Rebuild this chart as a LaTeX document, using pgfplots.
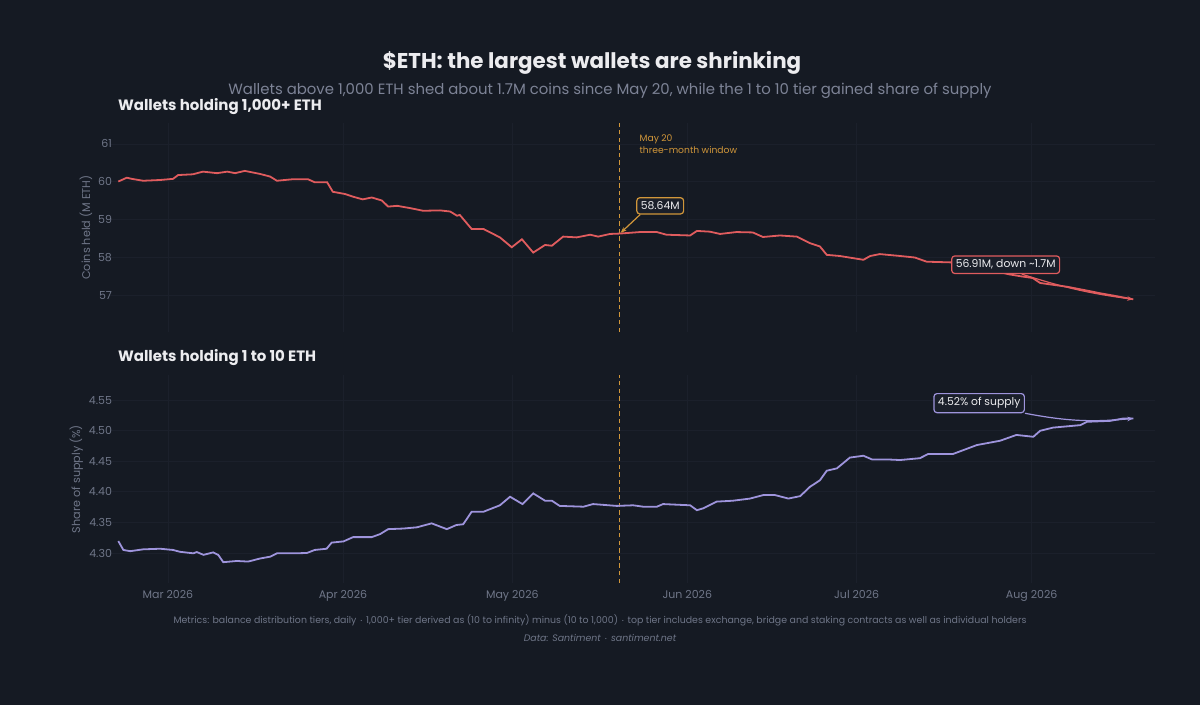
\documentclass[border=0pt]{standalone}
\usepackage{pgfplots}
\pgfplotsset{compat=1.18}
\usepackage{fontspec}
\setmainfont{Poppins}
\usetikzlibrary{arrows.meta}
\definecolor{bg}{HTML}{151A23}
\definecolor{gridc}{HTML}{1B202B}
\definecolor{tickc}{HTML}{6F7688}
\definecolor{subc}{HTML}{7D8396}
\definecolor{redl}{HTML}{E05C5E}
\definecolor{purl}{HTML}{9E94DC}
\definecolor{ambr}{HTML}{D0963A}
\definecolor{titc}{HTML}{ECECEF}
\definecolor{boxbg}{HTML}{1A1F2A}

\pgfplotstableread{
day val
-8.8 60.01
-7.3 60.11
-6.4 60.08
-4.4 60.03
-1.4 60.05
0.9 60.08
1.8 60.18
4.4 60.20
6.2 60.27
8.7 60.23
10.5 60.27
11.9 60.23
13.6 60.29
16.3 60.21
18.1 60.14
19.3 60.03
22.1 60.07
24.8 60.07
26.0 59.99
28.2 59.99
29.2 59.74
31.4 59.68
32.8 59.61
34.5 59.54
36.1 59.59
37.9 59.51
39.0 59.35
40.6 59.37
42.9 59.31
45.2 59.24
48.2 59.25
50.0 59.22
51.2 59.11
51.7 59.13
53.8 58.76
55.9 58.76
58.8 58.54
60.9 58.28
62.7 58.49
64.7 58.14
66.8 58.34
68.0 58.32
70.0 58.56
72.4 58.54
74.8 58.61
76.2 58.56
78.3 58.63
80.0 58.64
83.6 58.68
86.6 58.68
88.3 58.61
92.5 58.59
93.7 58.71
96.0 58.69
97.8 58.63
100.7 58.68
103.6 58.67
105.4 58.55
108.4 58.59
111.4 58.56
113.7 58.39
115.5 58.30
116.7 58.08
119.0 58.05
123.2 57.95
124.4 58.05
126.1 58.10
129.7 58.05
132.3 58.01
134.4 57.90
139.1 57.88
143.0 57.80
146.5 57.66
148.9 57.57
150.9 57.52
153.2 57.47
154.5 57.34
159.3 57.24
162.8 57.14
165.1 57.07
167.4 57.01
169.9 56.94
171.0 56.91
}\bigtier

\pgfplotstableread{
day val
-8.8 4.3196
-7.9 4.305
-6.7 4.303
-4.4 4.306
-1.4 4.307
0.9 4.305
2.1 4.302
4.5 4.2995
5.1 4.3016
6.3 4.297
8.0 4.301
8.9 4.297
9.8 4.285
12.2 4.287
14.2 4.286
16.3 4.291
18.1 4.294
19.3 4.2995
22.2 4.2995
24.6 4.300
26.0 4.305
28.1 4.307
29.0 4.317
31.1 4.319
32.8 4.326
36.1 4.326
37.6 4.331
39.0 4.339
41.7 4.340
44.1 4.342
46.7 4.3485
49.4 4.339
51.1 4.3458
52.3 4.347
53.8 4.3675
55.9 4.3675
58.8 4.378
60.6 4.392
62.8 4.380
64.7 4.3975
66.8 4.3855
68.0 4.3855
69.4 4.377
73.6 4.3757
75.3 4.380
79.5 4.377
82.4 4.378
84.2 4.3757
86.6 4.3757
87.7 4.380
92.5 4.378
93.7 4.370
94.8 4.373
97.2 4.384
100.1 4.3855
103.1 4.389
105.5 4.3948
107.5 4.3948
109.9 4.389
112.0 4.393
113.7 4.408
115.5 4.419
116.7 4.4345
118.5 4.4384
120.8 4.456
123.2 4.459
124.7 4.453
127.3 4.453
129.7 4.452
133.2 4.455
134.7 4.462
139.1 4.462
143.3 4.4765
147.4 4.4835
150.3 4.493
153.3 4.490
154.5 4.4998
156.8 4.505
161.6 4.509
162.8 4.5145
166.9 4.516
169.3 4.520
171.0 4.520
}\smalltier

\pgfplotsset{
  panel/.style={
    scale only axis,
    width=522.5pt,
    anchor=south west,
    xmin=-10.27, xmax=174.85,
    axis line style={draw=none},
    major tick length=0pt,
    grid=major,
    grid style={draw=gridc, line width=0.4pt},
    tick label style={font=\fontsize{5.5}{6}\selectfont, text=tickc},
    yticklabel style={xshift=4.5pt},
    /pgf/number format/assume math mode=true,
    ylabel style={font=\fontsize{5.6}{6}\selectfont, text=tickc},
    clip=false,
    xtick={0,31,61,92,122,153},
  }
}

\begin{document}
\begin{tikzpicture}
\path[use as bounding box] (0,0) rectangle (600pt,352.5pt);
\fill[bg] (0,0) rectangle (600pt,352.5pt);

\node[text=titc, font=\fontsize{10.7}{12}\selectfont\bfseries] at (296pt,321pt) {\$ETH: the largest wallets are shrinking};
\node[text=subc, font=\fontsize{7.45}{9}\selectfont] at (305pt,307pt) {Wallets above 1,000 ETH shed about 1.7M coins since May 20, while the 1 to 10 tier gained share of supply};
\node[text=titc, font=\fontsize{7.5}{9}\selectfont\bfseries, anchor=west] at (55.5pt,299pt) {Wallets holding 1,000+ ETH};
\node[text=titc, font=\fontsize{7.5}{9}\selectfont\bfseries, anchor=west] at (55.5pt,173.5pt) {Wallets holding 1 to 10 ETH};

\begin{axis}[panel,
  at={(55pt,186.5pt)}, height=104.5pt,
  ymin=56.05, ymax=61.55,
  ytick={57,58,59,60,61},
  xticklabels={},
  ylabel={Coins held (M ETH)},
  ylabel shift=-4pt,
]
\addplot[ambr, line width=0.75pt, dash pattern=on 2.2pt off 1.6pt, no marks] coordinates {(80,56.05) (80,61.55)};
\addplot[redl, line width=0.9pt, no marks] table[x=day,y=val] {\bigtier};
\node[anchor=west, text=ambr, font=\fontsize{4.6}{5.8}\selectfont, align=left] at (axis cs:82.3,61.0) {May 20\\three-month window};
\node[draw=ambr, fill=boxbg, rounded corners=1.5pt, line width=0.6pt, text=titc, font=\fontsize{5.4}{6}\selectfont, inner sep=2pt] (b1) at (axis cs:87.2,59.37) {58.64M};
\draw[ambr, line width=0.6pt, -{Stealth[length=3pt]}] ([xshift=2pt]b1.south west) -- (axis cs:80.2,58.66);
\node[draw=redl, fill=boxbg, rounded corners=1.5pt, line width=0.6pt, text=titc, font=\fontsize{5.4}{6}\selectfont, inner sep=2pt] (b2) at (axis cs:148.4,57.82) {56.91M, down \textasciitilde1.7M};
\draw[redl, line width=0.6pt, -{Stealth[length=3pt]}] ([xshift=8pt]b2.south) to[bend right=5] (axis cs:171,56.91);
\end{axis}

\begin{axis}[panel,
  at={(55pt,61pt)}, height=104pt,
  ymin=4.251, ymax=4.591,
  ytick={4.30,4.35,4.40,4.45,4.50,4.55},
  yticklabel style={/pgf/number format/.cd, fixed, fixed zerofill, precision=2},
  xticklabels={Mar 2026,Apr 2026,May 2026,Jun 2026,Jul 2026,Aug 2026},
  ylabel={Share of supply (\%)},
  ylabel shift=-4pt,
]
\addplot[ambr, line width=0.75pt, dash pattern=on 2.2pt off 1.6pt, no marks] coordinates {(80,4.251) (80,4.591)};
\addplot[purl, line width=0.9pt, no marks] table[x=day,y=val] {\smalltier};
\node[draw=purl, fill=boxbg, rounded corners=1.5pt, line width=0.6pt, text=titc, font=\fontsize{5.4}{6}\selectfont, inner sep=2pt] (b3) at (axis cs:143.7,4.545) {4.52\% of supply};
\draw[purl, line width=0.6pt, -{Stealth[length=3pt]}] (b3.south east) to[bend right=8] (axis cs:171,4.52);
\end{axis}

\node[text=tickc, font=\fontsize{4.7}{6}\selectfont] at (300pt,42.5pt) {Metrics: balance distribution tiers, daily $\cdot$ 1,000+ tier derived as (10 to infinity) minus (10 to 1,000) $\cdot$ top tier includes exchange, bridge and staking contracts as well as individual holders};
\node[text=tickc, font=\fontsize{4.7}{6}\selectfont\itshape] at (300pt,33.5pt) {Data: Santiment $\cdot$ santiment.net};
\end{tikzpicture}
\end{document}
